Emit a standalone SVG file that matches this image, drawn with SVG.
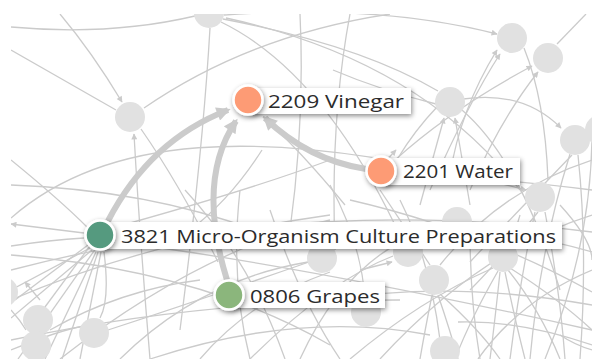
<svg xmlns="http://www.w3.org/2000/svg" width="592" height="359" viewBox="0 0 592 359">
  <defs>
    <style>
      .edge { fill: none; stroke: #cbcbcb; stroke-width: 1.3; }
      .edge-a { fill: none; stroke: #cbcbcb; stroke-width: 1.3; marker-end: url(#tip); }
      .hub { fill: #e1e1e1; }
      .flow { fill: none; stroke: #cbcbcb; stroke-width: 6; marker-end: url(#bigtip); }
      .tag { fill: #ffffff; filter: url(#shadow); }
      .dot { stroke: #ffffff; stroke-width: 2.5; filter: url(#shadow); }
      .name { font-family: "Open Sans", "Liberation Sans", sans-serif; font-size: 18px; fill: #2b2b2b; }
    </style>
    <marker id="tip" viewBox="0 0 10 10" refX="9" refY="5" markerWidth="7" markerHeight="6" markerUnits="userSpaceOnUse" orient="auto">
      <path d="M0,0 L10,5 L0,10 Z" fill="#cbcbcb"/>
    </marker>
    <marker id="bigtip" viewBox="0 0 10 10" refX="8" refY="5" markerWidth="15" markerHeight="14" markerUnits="userSpaceOnUse" orient="auto">
      <path d="M0,0 L10,5 L0,10 Z" fill="#cbcbcb"/>
    </marker>
    <filter id="shadow" x="-20%" y="-40%" width="140%" height="200%">
      <feDropShadow dx="1" dy="2" stdDeviation="2.5" flood-color="#000000" flood-opacity="0.45"/>
    </filter>
    <clipPath id="frame">
      <rect x="11" y="14" width="581" height="345"/>
    </clipPath>
  </defs>

  <rect width="592" height="359" fill="#ffffff"/>

  <!-- background network -->
  <g id="background" clip-path="url(#frame)">
    <g id="thin-edges">
      <!-- upper left -->
      <path class="edge" d="M11,27 Q110,36 195,16"/>
      <path class="edge-a" d="M224,15 Q380,4 497,34"/>
      <path class="edge-a" d="M60,14 Q92,52 122,102"/>
      <path class="edge" d="M11,50 Q60,78 116,110"/>
      <path class="edge" d="M144,108 Q250,35 390,14"/>
      <path class="edge" d="M210,28 Q203,150 180,330"/>
      <path class="edge" d="M221,22 Q320,70 395,225"/>
      <path class="edge" d="M223,19 Q360,45 438,91"/>
      <path class="edge" d="M226,18 Q420,60 520,190"/>
      <path class="edge-a" d="M150,359 Q140,240 134,134"/>
      <path class="edge" d="M141,129 Q180,185 218,262"/>
      <path class="edge-a" d="M11,218 C100,140 250,118 526,190"/>
      <path class="edge" d="M263,117 Q300,150 345,205"/>
      <path class="edge" d="M300,14 Q305,120 290,230"/>
      <path class="edge" d="M333,70 Q380,90 436,104"/>
      <path class="edge" d="M350,14 Q330,120 335,250"/>
      <!-- around the water node -->
      <path class="edge-a" d="M395,160 Q450,110 532,66"/>
      <path class="edge-a" d="M470,190 Q500,120 538,72"/>
      <path class="edge-a" d="M430,190 Q470,100 500,54"/>
      <path class="edge-a" d="M450,175 Q460,110 497,50"/>
      <path class="edge" d="M437,107 Q415,130 398,158"/>
      <path class="edge-a" d="M420,205 L444,118"/>
      <path class="edge-a" d="M470,205 L455,118"/>
      <path class="edge-a" d="M463,99 Q523,90 561,128"/>
      <path class="edge" d="M462,110 Q520,160 560,290"/>
      <path class="edge" d="M557,44 L586,14"/>
      <path class="edge" d="M524,48 Q545,100 548,180"/>
      <path class="edge-a" d="M368,180 L396,150"/>
      <path class="edge" d="M395,175 Q470,175 592,190"/>
      <!-- lower left fan -->
      <path class="edge-a" d="M84,233 L11,224"/>
      <path class="edge" d="M84,238 Q50,240 11,246"/>
      <path class="edge" d="M90,248 L11,290"/>
      <path class="edge" d="M92,250 L11,318"/>
      <path class="edge" d="M94,251 L18,359"/>
      <path class="edge" d="M96,252 L45,359"/>
      <path class="edge" d="M98,252 L62,359"/>
      <path class="edge" d="M101,252 L80,359"/>
      <path class="edge" d="M90,246 L28,330"/>
      <path class="edge" d="M88,245 L15,300"/>
      <path class="edge" d="M104,252 Q110,300 100,318"/>
      <path class="edge" d="M11,160 Q60,200 88,228"/>
      <path class="edge" d="M11,185 Q150,190 260,232"/>
      <path class="edge" d="M11,255 Q200,270 330,345"/>
      <path class="edge" d="M11,300 Q150,240 330,215"/>
      <path class="edge" d="M60,359 Q200,250 330,220"/>
      <path class="edge" d="M120,359 Q200,280 308,262"/>
      <path class="edge" d="M11,340 Q200,300 400,300"/>
      <path class="edge" d="M150,359 Q300,310 430,335"/>
      <path class="edge" d="M250,359 Q330,280 393,256"/>
      <path class="edge" d="M200,359 Q250,300 330,272"/>
      <path class="edge" d="M11,270 Q300,195 592,232"/>
      <path class="edge" d="M300,359 Q350,250 442,225"/>
      <path class="edge" d="M116,242 Q300,265 592,330"/>
      <path class="edge" d="M112,228 Q250,190 330,160"/>
      <path class="edge" d="M185,190 Q250,260 285,359"/>
      <path class="edge" d="M240,190 Q230,280 250,359"/>
      <path class="edge" d="M108,330 Q200,300 309,262"/>
      <path class="edge" d="M50,330 Q120,290 200,280"/>
      <path class="edge" d="M11,350 Q60,330 84,326"/>
      <path class="edge" d="M11,310 Q20,320 26,330"/>
      <path class="edge-a" d="M40,300 L25,282"/>
      <path class="edge" d="M270,210 Q300,300 340,359"/>
      <path class="edge" d="M190,230 Q230,200 262,150"/>
      <!-- lower right -->
      <path class="edge" d="M500,272 Q495,320 490,359"/>
      <path class="edge" d="M505,272 Q515,320 525,359"/>
      <path class="edge" d="M508,270 Q540,310 560,359"/>
      <path class="edge" d="M498,271 Q470,320 455,359"/>
      <path class="edge" d="M510,268 Q560,300 592,330"/>
      <path class="edge" d="M432,295 Q425,330 420,359"/>
      <path class="edge" d="M438,295 Q450,330 458,359"/>
      <path class="edge" d="M440,294 Q480,330 500,359"/>
      <path class="edge" d="M535,212 Q520,280 510,359"/>
      <path class="edge" d="M545,212 Q560,290 565,359"/>
      <path class="edge" d="M538,212 Q500,260 470,290"/>
      <path class="edge" d="M570,154 Q540,250 530,359"/>
      <path class="edge" d="M578,155 Q588,250 580,359"/>
      <path class="edge" d="M572,155 Q500,230 470,262"/>
      <path class="edge" d="M300,240 Q450,210 592,252"/>
      <path class="edge" d="M350,200 Q480,230 592,292"/>
      <path class="edge" d="M380,359 Q480,250 592,215"/>
      <path class="edge" d="M592,160 Q500,190 440,265"/>
      <path class="edge" d="M330,300 Q450,280 592,305"/>
      <path class="edge" d="M350,359 Q420,300 493,268"/>
      <path class="edge" d="M592,270 Q520,300 478,359"/>
      <path class="edge" d="M400,200 Q430,260 440,340"/>
      <path class="edge" d="M470,230 Q470,300 480,359"/>
      <path class="edge" d="M520,215 Q510,250 506,242"/>
      <path class="edge" d="M560,205 Q592,240 592,260"/>
      <path class="edge" d="M592,140 Q590,250 545,359"/>
      <path class="edge-a" d="M380,245 L408,248"/>
      <path class="edge-a" d="M360,270 L392,262"/>
      <path class="edge-a" d="M330,290 L352,304"/>
      <path class="edge" d="M380,190 Q420,250 430,265"/>
      <path class="edge" d="M330,185 Q360,240 365,297"/>
      <path class="edge" d="M560,335 Q575,345 592,350"/>
      <path class="edge" d="M458,322 Q520,320 592,345"/>
    </g>
    <g id="hubs">
      <circle class="hub" cx="209" cy="13" r="15"/>
      <circle class="hub" cx="130" cy="117" r="15"/>
      <circle class="hub" cx="512" cy="38" r="15"/>
      <circle class="hub" cx="548" cy="58" r="15"/>
      <circle class="hub" cx="450" cy="102" r="15"/>
      <circle class="hub" cx="575" cy="140" r="15"/>
      <circle class="hub" cx="600" cy="130" r="15"/>
      <circle class="hub" cx="540" cy="197" r="15"/>
      <circle class="hub" cx="457" cy="222" r="15"/>
      <circle class="hub" cx="503" cy="257" r="15"/>
      <circle class="hub" cx="434" cy="280" r="15"/>
      <circle class="hub" cx="408" cy="252" r="15"/>
      <circle class="hub" cx="322" cy="258" r="15"/>
      <circle class="hub" cx="366" cy="312" r="15"/>
      <circle class="hub" cx="445" cy="351" r="15"/>
      <circle class="hub" cx="3" cy="292" r="15"/>
      <circle class="hub" cx="38" cy="320" r="15"/>
      <circle class="hub" cx="36" cy="346" r="15"/>
      <circle class="hub" cx="94" cy="333" r="15"/>
    </g>
  </g>

  <!-- highlighted flows -->
  <g id="connectors">
    <path class="flow" d="M108,221 Q150,140 228,110"/>
    <path class="flow" d="M227,280 Q196,180 236,121"/>
    <path class="flow" d="M366,169 Q308,160 265,118"/>
  </g>

  <g id="node-2209">
    <rect class="tag" x="250" y="88" width="161" height="26"/>
    <circle class="dot" cx="248" cy="100" r="14.5" fill="#fd9b74"/>
    <text class="name" x="268" y="108" textLength="136" lengthAdjust="spacingAndGlyphs">2209 Vinegar</text>
  </g>

  <g id="node-2201">
    <rect class="tag" x="383" y="158" width="137" height="27"/>
    <circle class="dot" cx="381" cy="171" r="14.5" fill="#fd9b74"/>
    <text class="name" x="403" y="178" textLength="110" lengthAdjust="spacingAndGlyphs">2201 Water</text>
  </g>

  <g id="node-3821">
    <rect class="tag" x="100" y="222" width="462" height="27"/>
    <circle class="dot" cx="100" cy="235" r="14.5" fill="#549a7f"/>
    <text class="name" x="121" y="243" textLength="435" lengthAdjust="spacingAndGlyphs">3821 Micro-Organism Culture Preparations</text>
  </g>

  <g id="node-0806">
    <rect class="tag" x="229" y="282" width="156" height="26"/>
    <circle class="dot" cx="229" cy="295" r="14.5" fill="#8bb67b"/>
    <text class="name" x="250" y="303" textLength="130" lengthAdjust="spacingAndGlyphs">0806 Grapes</text>
  </g>
</svg>
